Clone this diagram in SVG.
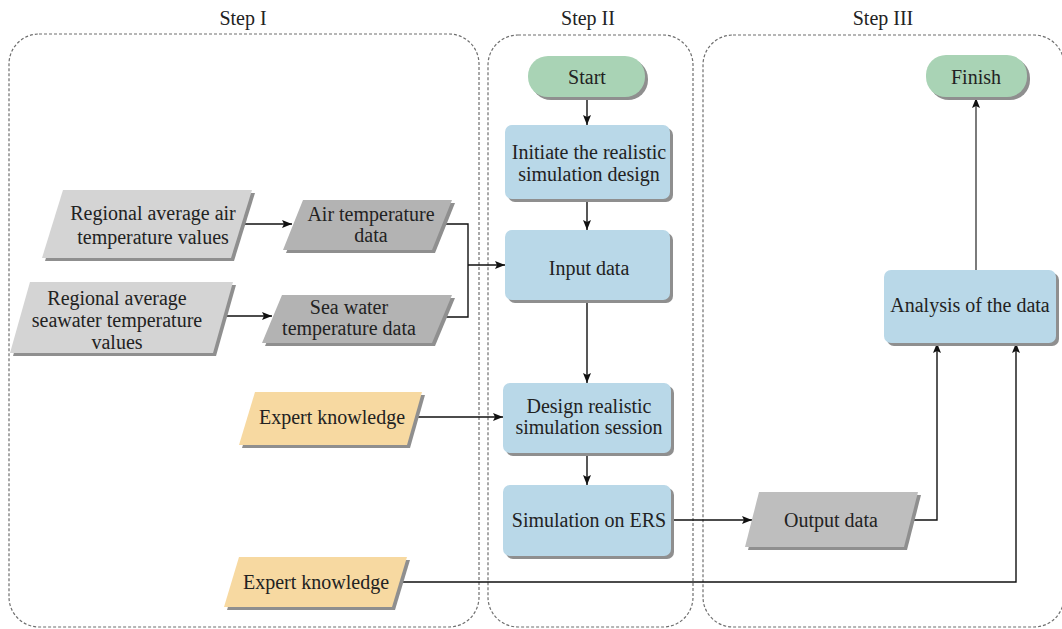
<svg xmlns="http://www.w3.org/2000/svg" width="1062" height="629" viewBox="0 0 1062 629">
<style>
text{font-family:"Liberation Serif","Times New Roman",serif;font-size:20px;fill:#222;text-anchor:middle}
.step{fill:none;stroke:#6f6f6f;stroke-width:1.2;stroke-dasharray:3 2}
.sh{fill:#8f8f8f}
.term{fill:#a9d3b5}
.proc{fill:#b9d8e8}
.lg{fill:#d4d4d4}
.dg{fill:#b3b3b3}
.og{fill:#bebebe}
.ek{fill:#f7d9a1}
.c{fill:none;stroke:#111;stroke-width:1.4}
</style>
<defs>
<marker id="ah" viewBox="0 0 10 8" refX="10" refY="4" markerWidth="10" markerHeight="8" markerUnits="userSpaceOnUse" orient="auto">
<path d="M0,0 L10,4 L0,8 L2,4 Z" fill="#111"/>
</marker>
</defs>
<rect width="1062" height="629" fill="#fff"/>
<g id="steps">
<rect class="step" x="9" y="34" width="470" height="593" rx="30"/>
<rect class="step" x="488" y="35" width="205" height="592" rx="30"/>
<rect class="step" x="703" y="35" width="361" height="592" rx="30"/>
<text x="243" y="25">Step I</text>
<text x="588" y="25">Step II</text>
<text x="883" y="25">Step III</text>
</g>
<g id="connectors">
<line class="c" x1="587" y1="97" x2="587" y2="125" marker-end="url(#ah)"/>
<line class="c" x1="587" y1="200" x2="587" y2="230" marker-end="url(#ah)"/>
<line class="c" x1="587" y1="300" x2="587" y2="383" marker-end="url(#ah)"/>
<line class="c" x1="587" y1="455" x2="587" y2="485" marker-end="url(#ah)"/>
<line class="c" x1="237" y1="224" x2="292" y2="224" marker-end="url(#ah)"/>
<line class="c" x1="220" y1="316" x2="272" y2="316" marker-end="url(#ah)"/>
<polyline class="c" points="446,224 468,224 468,317 437,317"/>
<line class="c" x1="468" y1="265" x2="505" y2="265" marker-end="url(#ah)"/>
<line class="c" x1="411" y1="417" x2="503" y2="417" marker-end="url(#ah)"/>
<line class="c" x1="673" y1="520" x2="752" y2="520" marker-end="url(#ah)"/>
<polyline class="c" points="911,520 937,520 937,343" marker-end="url(#ah)"/>
<polyline class="c" points="396,582 1016,582 1016,343" marker-end="url(#ah)"/>
<line class="c" x1="976" y1="270" x2="976" y2="98" marker-end="url(#ah)" style="stroke:#444"/>
</g>
<g id="start">
<rect class="sh" x="531" y="59" width="117" height="41" rx="20"/>
<rect class="term" x="528" y="56" width="117" height="41" rx="20"/>
<text x="587" y="84">Start</text>
</g>
<g id="initiate">
<rect class="sh" x="508" y="128" width="165" height="74" rx="7"/>
<rect class="proc" x="505" y="125" width="165" height="74" rx="7"/>
<text x="589" y="159">Initiate the realistic</text>
<text x="589" y="181">simulation design</text>
</g>
<g id="input">
<rect class="sh" x="508" y="233" width="165" height="70" rx="7"/>
<rect class="proc" x="505" y="230" width="165" height="70" rx="7"/>
<text x="589" y="275">Input data</text>
</g>
<g id="design">
<rect class="sh" x="506" y="386" width="168" height="70" rx="7"/>
<rect class="proc" x="503" y="383" width="168" height="70" rx="7"/>
<text x="589" y="413">Design realistic</text>
<text x="589" y="434">simulation session</text>
</g>
<g id="simulation">
<rect class="sh" x="506" y="488" width="168" height="71" rx="7"/>
<rect class="proc" x="503" y="485" width="168" height="71" rx="7"/>
<text x="589" y="527">Simulation on ERS</text>
</g>
<g id="finish">
<rect class="sh" x="929" y="58" width="101" height="42" rx="20"/>
<rect class="term" x="926" y="55" width="101" height="42" rx="20"/>
<text x="976" y="84">Finish</text>
</g>
<g id="analysis">
<rect class="sh" x="887" y="273" width="172" height="73" rx="7"/>
<rect class="proc" x="884" y="270" width="172" height="73" rx="7"/>
<text x="970" y="312">Analysis of the data</text>
</g>
<g id="output">
<polygon class="sh" points="762,495 921,495 907,550 748,550"/>
<polygon class="og" points="759,492 918,492 904,547 745,547"/>
<text x="831" y="527">Output data</text>
</g>
<g id="regional-air">
<polygon class="sh" points="66,193 255,193 234,261 45,261"/>
<polygon class="lg" points="63,190 252,190 231,258 42,258"/>
<text x="153" y="220">Regional average air</text>
<text x="153" y="244">temperature values</text>
</g>
<g id="air-temp">
<polygon class="sh" points="306,203 455,203 435,253 286,253"/>
<polygon class="dg" points="303,200 452,200 432,250 283,250"/>
<text x="371" y="221">Air temperature</text>
<text x="371" y="242">data</text>
</g>
<g id="regional-sea">
<polygon class="sh" points="33,285 236,285 216,356 13,356"/>
<polygon class="lg" points="30,282 233,282 213,353 10,353"/>
<text x="117" y="305">Regional average</text>
<text x="117" y="327">seawater temperature</text>
<text x="117" y="349">values</text>
</g>
<g id="sea-temp">
<polygon class="sh" points="285,298 455,298 435,346 265,346"/>
<polygon class="dg" points="282,295 452,295 432,343 262,343"/>
<text x="349" y="314">Sea water</text>
<text x="349" y="335">temperature data</text>
</g>
<g id="expert1">
<polygon class="sh" points="258,395 425,395 410,448 242,448"/>
<polygon class="ek" points="255,392 422,392 407,445 239,445"/>
<text x="332" y="424">Expert knowledge</text>
</g>
<g id="expert2">
<polygon class="sh" points="242,560 410,560 395,610 227,610"/>
<polygon class="ek" points="239,557 407,557 392,607 224,607"/>
<text x="316" y="589">Expert knowledge</text>
</g>
</svg>
